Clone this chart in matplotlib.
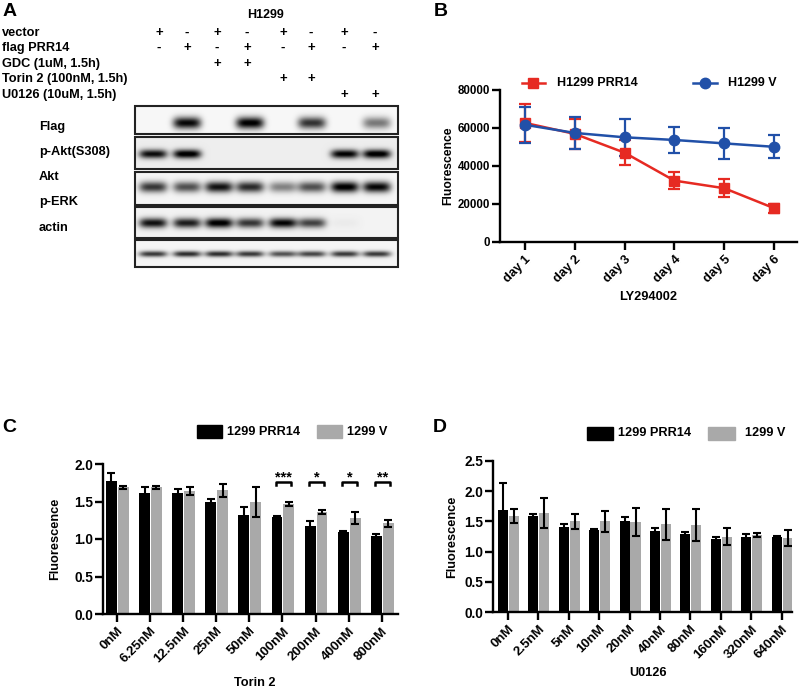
import numpy as np
import matplotlib.pyplot as plt
from matplotlib.patches import Rectangle
from matplotlib.lines import Line2D

plt.rcParams['font.family'] = ['Liberation Sans', 'DejaVu Sans']
plt.rcParams['font.weight'] = 'bold'

## Panel A data (western blot)
conditions = ['vector', 'flag PRR14', 'GDC (1uM, 1.5h)', 'Torin 2 (100nM, 1.5h)', 'U0126 (10uM, 1.5h)']
marks = [
    ['+', '-', '+', '-', '+', '-', '+', '-'],
    ['-', '+', '-', '+', '-', '+', '-', '+'],
    ['', '', '+', '+', '', '', '', ''],
    ['', '', '', '', '+', '+', '', ''],
    ['', '', '', '', '', '', '+', '+'],
]
blot_names = ['Flag', 'p-Akt(S308)', 'Akt', 'p-ERK', 'actin']
band_levels = [
    [0.00, 0.95, 0.00, 1.00, 0.00, 0.78, 0.00, 0.50],   # Flag
    [0.90, 1.00, 0.00, 0.00, 0.00, 0.00, 0.95, 1.00],   # p-Akt
    [0.75, 0.65, 0.90, 0.80, 0.45, 0.65, 1.00, 0.95],   # Akt
    [0.90, 0.85, 1.00, 0.75, 0.95, 0.70, 0.03, 0.00],   # p-ERK
    [0.75, 0.80, 0.80, 0.75, 0.65, 0.70, 0.75, 0.75],   # actin
]

## Panel B data
days = ['day 1', 'day 2', 'day 3', 'day 4', 'day 5', 'day 6']
prr14_mean = [62700, 56900, 47000, 32300, 28300, 17800]
prr14_err = [10000, 8000, 6500, 4600, 4600, 2400]
v_mean = [61700, 57400, 55100, 53700, 51900, 50100]
v_err = [9600, 8400, 9700, 6700, 8200, 6000]

## Panel C data
torin_doses = ['0nM', '6.25nM', '12.5nM', '25nM', '50nM', '100nM', '200nM', '400nM', '800nM']
torin_prr14 = [1.77, 1.61, 1.61, 1.49, 1.32, 1.30, 1.18, 1.09, 1.04]
torin_prr14_err = [0.11, 0.08, 0.06, 0.05, 0.11, 0.005, 0.06, 0.02, 0.03]
torin_v = [1.69, 1.69, 1.64, 1.65, 1.49, 1.47, 1.36, 1.28, 1.21]
torin_v_err = [0.02, 0.02, 0.05, 0.09, 0.20, 0.03, 0.03, 0.08, 0.05]
torin_sig = {5: '***', 6: '*', 7: '*', 8: '**'}

## Panel D data
u0126_doses = ['0nM', '2.5nM', '5nM', '10nM', '20nM', '40nM', '80nM', '160nM', '320nM', '640nM']
u0126_prr14 = [1.69, 1.59, 1.41, 1.35, 1.51, 1.34, 1.29, 1.21, 1.24, 1.25]
u0126_prr14_err = [0.45, 0.04, 0.04, 0.03, 0.07, 0.05, 0.04, 0.03, 0.05, 0.01]
u0126_v = [1.59, 1.64, 1.50, 1.50, 1.49, 1.45, 1.44, 1.25, 1.27, 1.22]
u0126_v_err = [0.12, 0.25, 0.13, 0.17, 0.23, 0.26, 0.26, 0.14, 0.03, 0.13]

RED = '#e62a22'
BLUE = '#2150a8'
GREY = '#a9a9a9'

W, H = 800, 688
fig = plt.figure(figsize=(W / 100, H / 100), dpi=100)

def rect(l, t, r, b):
    return [l / W, 1 - b / H, (r - l) / W, (b - t) / H]

# overlay axes in pixel coordinates for free text and the blot
axA = fig.add_axes([0, 0, 1, 1])
axA.set_axis_off()


## Panel A
axA.text(3, 11, 'A', fontsize=14, ha='left', va='center')
axA.text(265, 15, 'H1299', fontsize=9, ha='center', va='center')
mark_x = [159, 187, 217, 247, 283, 311, 344, 375]
row_y = [33, 48, 64, 79, 95]
for lab, row, y in zip(conditions, marks, row_y):
    axA.text(2, y, lab, fontsize=9.2, ha='left', va='center')
    for x, m in zip(mark_x, row):
        if m:
            axA.text(x, y, m, fontsize=9.5, ha='center', va='center')

lane_x = [153, 187, 219, 250, 283, 312, 345, 377]
boxes = [(106, 134), (137, 169), (172, 205), (207, 238), (240, 267)]
band_y = [123, 154, 187, 223, 254]
band_h = [6.0, 4.5, 5.5, 5.0, 3.0]
backgrounds = [0.97, 0.93, 0.96, 0.95, 0.96]
label_y = [127, 152, 177, 202, 228]
bx0, bx1 = 135, 398
for k in range(len(blot_names)):
    y0, y1 = boxes[k]
    xs = np.linspace(bx0, bx1, 2 * (bx1 - bx0))
    ys = np.linspace(y0, y1, 2 * (y1 - y0))
    X, Y = np.meshgrid(xs, ys)
    img = np.full(X.shape, backgrounds[k])
    for cx, lev in zip(lane_x, band_levels[k]):
        gx = np.exp(-(np.abs(X - cx) / 14.0) ** 4)
        gy = np.exp(-((Y - band_y[k]) / band_h[k]) ** 2)
        img -= lev * gx * gy
    img = np.clip(img, 0, 1)
    axA.imshow(img, cmap='gray', vmin=0, vmax=1, extent=(bx0, bx1, y1, y0),
               origin='upper', aspect='auto', interpolation='bilinear')
    axA.add_patch(Rectangle((bx0, y0), bx1 - bx0, y1 - y0, fill=False,
                            edgecolor='#222222', linewidth=1.5))
    axA.text(39, label_y[k], blot_names[k], fontsize=9.2, ha='left', va='center')

axA.set_xlim(0, W)
axA.set_ylim(H, 0)


def style_axes(ax):
    for s in ['top', 'right']:
        ax.spines[s].set_visible(False)
    for s in ['left', 'bottom']:
        ax.spines[s].set_linewidth(1.7)
    ax.tick_params(width=1.7, length=6, direction='out')
    ax.set_facecolor('none')


## Panel B
axB = fig.add_axes(rect(500, 90, 797, 242))
style_axes(axB)
xb = np.arange(len(days))
axB.errorbar(xb, prr14_mean, yerr=prr14_err, color=RED, marker='s', markersize=7,
             linewidth=1.8, elinewidth=1.6, capsize=4, capthick=1.6)
axB.errorbar(xb, v_mean, yerr=v_err, color=BLUE, marker='o', markersize=7.5,
             linewidth=1.8, elinewidth=1.6, capsize=4, capthick=1.6)
axB.set_xlim(-0.5, 5.46)
axB.set_ylim(0, 80000)
axB.set_yticks([0, 20000, 40000, 60000, 80000])
axB.set_xticks(xb)
axB.set_xticklabels(days, rotation=45, ha='right', rotation_mode='anchor', fontsize=9.2)
axB.tick_params(axis='y', labelsize=8.3, pad=1)
axB.tick_params(axis='x', pad=2)
axA.text(448, 166, 'Fluorescence', fontsize=8.7, rotation=90, ha='center', va='center')
axA.text(648, 297, 'LY294002', fontsize=9.2, ha='center', va='center')
axA.text(434, 11, 'B', fontsize=14, ha='left', va='center')
axA.add_line(Line2D([522, 545], [83, 83], color=RED, linewidth=1.8))
axA.plot([533], [83], marker='s', color=RED, markersize=7)
axA.text(557, 83, 'H1299 PRR14', fontsize=9, ha='left', va='center')
axA.add_line(Line2D([693, 717], [83, 83], color=BLUE, linewidth=1.8))
axA.plot([705], [83], marker='o', color=BLUE, markersize=7.5)
axA.text(728, 83, 'H1299 V', fontsize=9, ha='left', va='center')


def bar_panel(ax, doses, a, a_err, b, b_err, ymax, yticks):
    style_axes(ax)
    x = np.arange(len(doses))
    ax.bar(x - 0.165, a, width=0.33, color='black', zorder=2)
    ax.bar(x + 0.195, b, width=0.33, color=GREY, zorder=2)
    ax.errorbar(x - 0.165, a, yerr=a_err, fmt='none', ecolor='black',
                elinewidth=1.5, capsize=3, capthick=1.5, zorder=3)
    ax.errorbar(x + 0.195, b, yerr=b_err, fmt='none', ecolor='black',
                elinewidth=1.5, capsize=3, capthick=1.5, zorder=3)
    ax.set_ylim(0, ymax)
    ax.set_yticks(yticks)
    ax.set_xticks(x)
    ax.set_xticklabels(doses, rotation=45, ha='right', rotation_mode='anchor', fontsize=9.5)
    ax.tick_params(axis='y', labelsize=9.8, pad=1)
    ax.tick_params(axis='x', pad=2)
    return x


## Panel C
axC = fig.add_axes(rect(103, 464, 398, 614))
bar_panel(axC, torin_doses, torin_prr14, torin_prr14_err, torin_v, torin_v_err,
          2.0, [0.0, 0.5, 1.0, 1.5, 2.0])
axC.set_xlim(-0.42, 8.49)
for i, s in torin_sig.items():
    axC.plot([i - 0.2, i - 0.2, i + 0.25, i + 0.25], [1.725, 1.755, 1.755, 1.725],
             color='black', linewidth=1.8, clip_on=False)
    axC.text(i + 0.025, 1.765, s, fontsize=10.5, ha='center', va='baseline')
axA.text(2, 428, 'C', fontsize=14, ha='left', va='center')
axA.text(55, 539, 'Fluorescence', fontsize=9.2, rotation=90, ha='center', va='center')
axA.text(255, 683, 'Torin 2', fontsize=9.2, ha='center', va='center')
axA.add_patch(Rectangle((197, 425), 25, 13, color='black'))
axA.text(227, 432, '1299 PRR14', fontsize=9.2, ha='left', va='center')
axA.add_patch(Rectangle((317, 425), 25, 13, color=GREY))
axA.text(347, 432, '1299 V', fontsize=9.2, ha='left', va='center')

## Panel D
axD = fig.add_axes(rect(493, 461, 792, 612))
bar_panel(axD, u0126_doses, u0126_prr14, u0126_prr14_err, u0126_v, u0126_v_err,
          2.5, [0.0, 0.5, 1.0, 1.5, 2.0, 2.5])
axD.set_xlim(-0.49, 9.34)
axA.text(433, 428, 'D', fontsize=14, ha='left', va='center')
axA.text(452, 537, 'Fluorescence', fontsize=9.2, rotation=90, ha='center', va='center')
axA.text(648, 673, 'U0126', fontsize=9.2, ha='center', va='center')
axA.add_patch(Rectangle((587, 427), 26, 13, color='black'))
axA.text(618, 433, '1299 PRR14', fontsize=9.2, ha='left', va='center')
axA.add_patch(Rectangle((708, 427), 27, 13, color=GREY))
axA.text(745, 433, '1299 V', fontsize=9.2, ha='left', va='center')

axA.set_xlim(0, W)
axA.set_ylim(H, 0)

fig.savefig('out.png', dpi=100)
